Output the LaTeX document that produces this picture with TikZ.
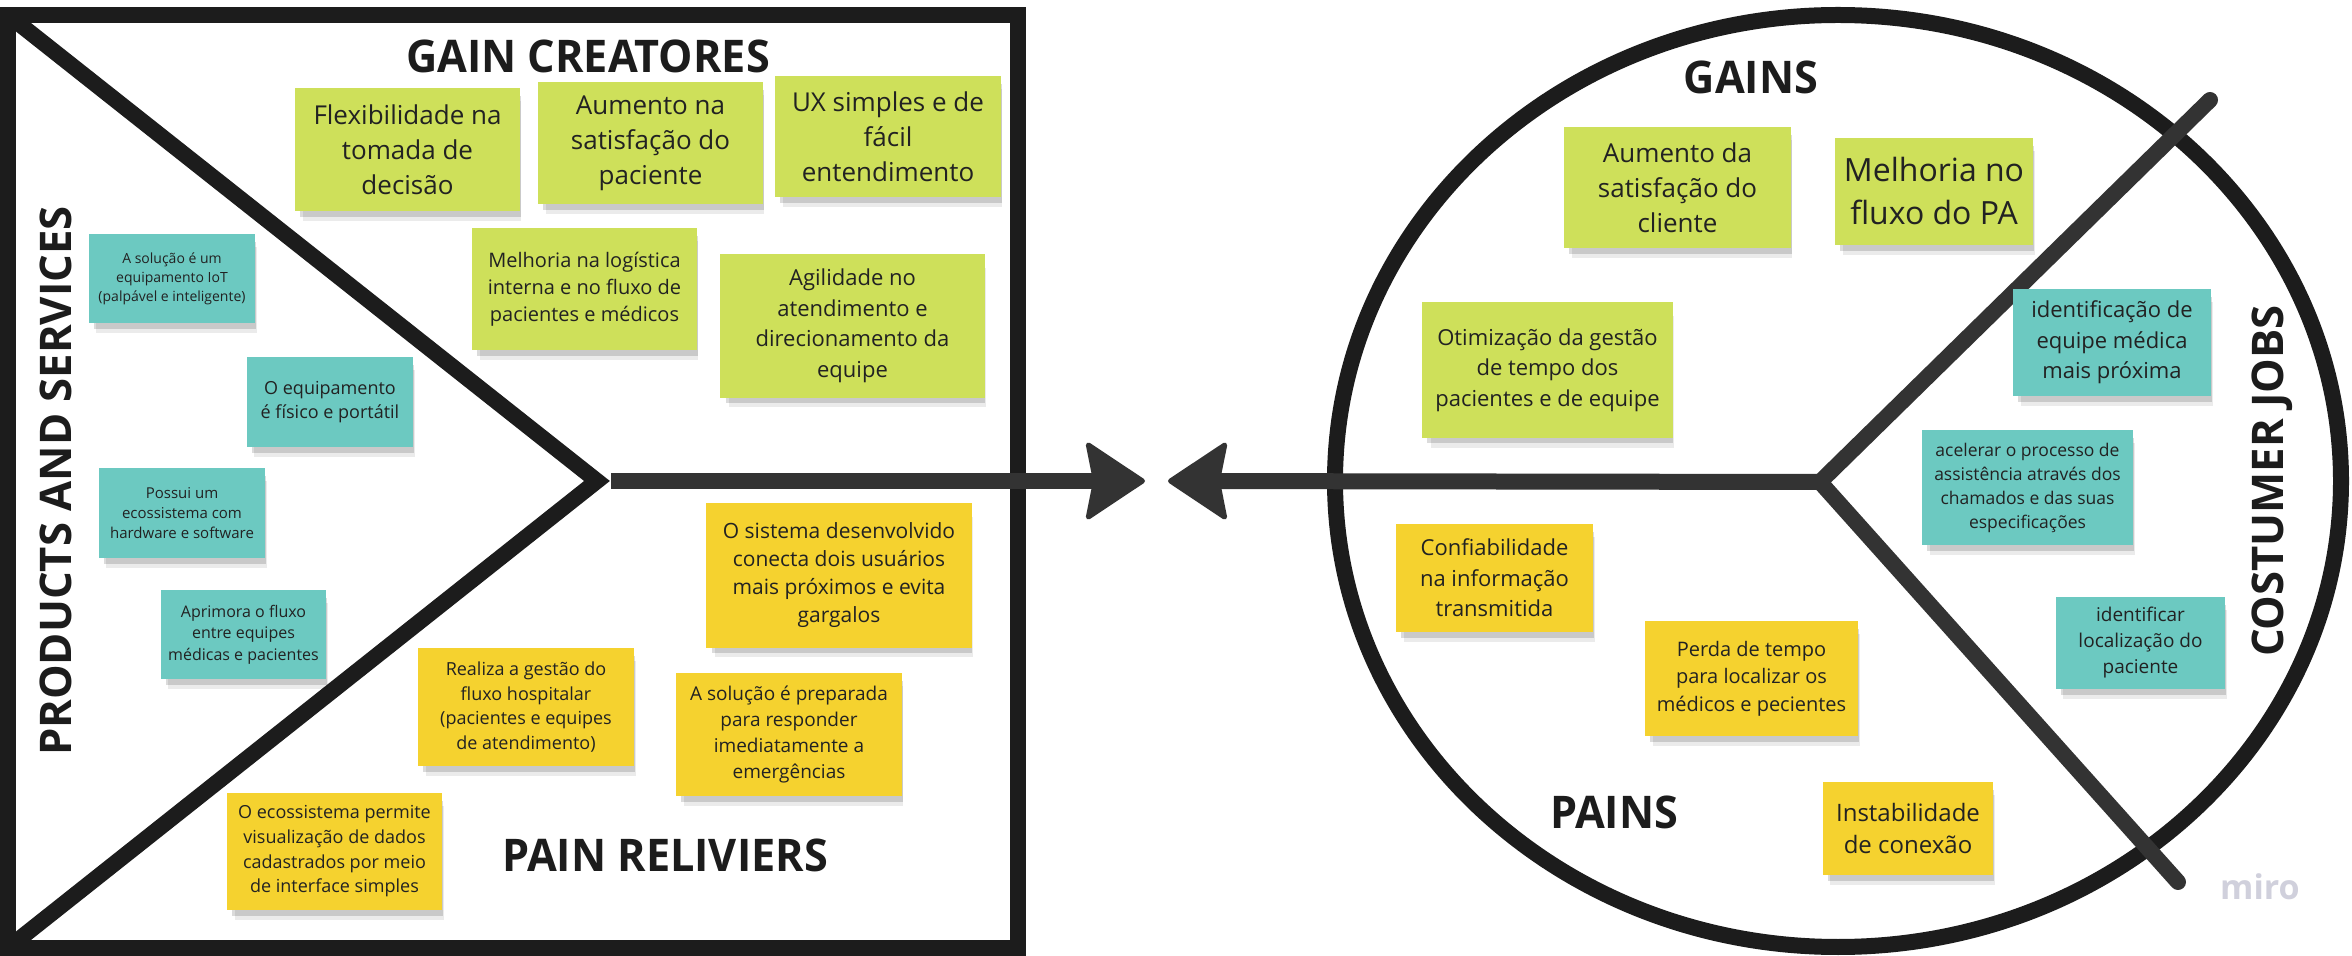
\documentclass[tikz,border=0pt]{standalone}
\usepackage{fontspec}
\setmainfont{Open Sans}
\newfontfamily\notefont{Open Sans}
\newfontfamily\titlefont{Open Sans}
\newfontfamily\condtitlefont{Open Sans}[FakeStretch=0.96]
\usetikzlibrary{arrows.meta,shadows}

\definecolor{stgreen}{RGB}{206,224,90}
\definecolor{stteal}{RGB}{108,201,193}
\definecolor{styellow}{RGB}{245,210,47}
\definecolor{framecol}{RGB}{28,28,28}
\definecolor{linecol}{RGB}{51,51,51}
\definecolor{notetext}{RGB}{34,34,34}
\definecolor{mirocol}{RGB}{208,208,220}

\tikzset{
  frameline/.style={draw=framecol, line width=8pt},
  shaft/.style={draw=linecol, line width=8pt},
  tiphead/.style={-{Stealth[length=31pt, width=41pt, inset=4pt, round, line width=2.5pt]}},
  note/.style={inner sep=0pt, align=center, text=notetext,
    drop shadow={shadow xshift=2.5pt, shadow yshift=-6pt, shadow scale=0.97, opacity=0.08, fill=black},
    drop shadow={shadow xshift=1.5pt, shadow yshift=-3.5pt, shadow scale=0.98, opacity=0.14, fill=black}},
  gnote/.style={note, fill=stgreen},
  tnote/.style={note, fill=stteal},
  ynote/.style={note, fill=styellow},
  title/.style={inner sep=0pt, text=framecol, font=\condtitlefont\bfseries\fontsize{22.5}{27}\selectfont},
  wtitle/.style={inner sep=0pt, text=framecol, font=\titlefont\bfseries\fontsize{21.8}{26}\selectfont, rotate=90},
}
\newcommand\nfs[2]{\notefont\fontsize{#1}{#2}\selectfont}
% \sticky{style}{name}{x1}{y1}{x2}{y2}{font}{text}
\newcommand\sticky[8]{%
  \node[#1, minimum width={(#5-#3)*0.5pt}, minimum height={(#6-#4)*0.5pt}, font=#7]
    (#2) at ({(#3+#5)/2},{(#4+#6)/2}) {#8};}

\begin{document}
\begin{tikzpicture}[x=0.5pt, y=-0.5pt]
\useasboundingbox[fill=white] (0,0) rectangle (2352,956);

% ---------- value proposition canvas ----------
\draw[frameline] (8,15) rectangle (1018,948);
\coordinate (tl) at (8,15);
\coordinate (bl) at (8,948);
\coordinate (apex) at (597,481);
\draw[frameline, line join=miter] (tl) -- (apex) -- (bl);

% ---------- customer profile ----------
\draw[frameline] (1838,481) ellipse [x radius=503, y radius=466];
\coordinate (junc) at (1820,482);
\coordinate (jobsend) at (2210,100);
\coordinate (painend) at (2178,882);
\draw[shaft, line cap=round, line join=miter] (jobsend) -- (junc) -- (painend);

% ---------- arrows ----------
\coordinate (shaftL) at (611,481);
\coordinate (tipL) at (1145,481);
\coordinate (tipR) at (1168,481);
\draw[shaft, tiphead] (shaftL) -- (tipL);
\draw[shaft, tiphead] (junc) -- (tipR);

% ---------- titles ----------
\node[title] (tgc) at (588,56) {GAIN CREATORES};
\node[title] (tpr) at (665,855) {PAIN RELIVIERS};
\node[wtitle] (tps) at (56,481) {PRODUCTS AND SERVICES};
\node[title] (tgn) at (1751,77) {GAINS};
\node[title] (tpn) at (1614,812) {PAINS};
\node[wtitle] (tcj) at (2272,481) {COSTUMER JOBS};
\node[inner sep=0pt, text=mirocol, font=\titlefont\bfseries\fontsize{17}{20}\selectfont] (miro) at (2260,887) {miro};

% ---------- gain creators ----------
\sticky{gnote}{g1}{295}{88}{520}{211}{\nfs{13}{17.5}}{Flexibilidade na\\tomada de\\decisão}
\sticky{gnote}{g2}{538}{82}{763}{204}{\nfs{13}{17.5}}{Aumento na\\satisfação do\\paciente}
\sticky{gnote}{g3}{775}{76}{1001}{197}{\nfs{13}{17.5}}{UX simples e de\\fácil\\entendimento}
\sticky{gnote}{g4}{472}{228}{697}{350}{\nfs{10}{13.5}}{Melhoria na logística\\interna e no fluxo de\\pacientes e médicos}
\sticky{gnote}{g5}{720}{254}{985}{398}{\nfs{11}{15.25}}{Agilidade no\\atendimento e\\direcionamento da\\equipe}

% ---------- products and services ----------
\sticky{tnote}{p1}{89}{234}{255}{323}{\nfs{7}{9.5}}{A solução é um\\equipamento IoT\\(palpável e inteligente)}
\sticky{tnote}{p2}{247}{357}{413}{447}{\nfs{9}{12}}{O equipamento\\é físico e portátil}
\sticky{tnote}{p3}{99}{468}{265}{558}{\nfs{7.5}{10}}{Possui um\\ecossistema com\\hardware e software}
\sticky{tnote}{p4}{161}{590}{326}{679}{\nfs{8}{10.75}}{Aprimora o fluxo\\entre equipes\\médicas e pacientes}

% ---------- pain relievers ----------
\sticky{ynote}{r1}{706}{503}{972}{648}{\nfs{10.5}{14}}{O sistema desenvolvido\\conecta dois usuários\\mais próximos e evita\\gargalos}
\sticky{ynote}{r2}{418}{648}{634}{766}{\nfs{9}{12.25}}{Realiza a gestão do\\fluxo hospitalar\\(pacientes e equipes\\de atendimento)}
\sticky{ynote}{r3}{676}{673}{902}{796}{\nfs{9.5}{13}}{A solução é preparada\\para responder\\imediatamente a\\emergências}
\sticky{ynote}{r4}{227}{793}{442}{910}{\nfs{9}{12.35}}{O ecossistema permite\\visualização de dados\\cadastrados por meio\\de interface simples}

% ---------- gains ----------
\sticky{gnote}{gn1}{1564}{127}{1791}{248}{\nfs{13}{17.5}}{Aumento da\\satisfação do\\cliente}
\sticky{gnote}{gn2}{1835}{138}{2033}{245}{\nfs{16}{21.5}}{Melhoria no\\fluxo do PA}
\sticky{gnote}{gn3}{1422}{302}{1673}{438}{\nfs{11}{15.25}}{Otimização da gestão\\de tempo dos\\pacientes e de equipe}

% ---------- customer jobs ----------
\sticky{tnote}{j1}{2013}{289}{2211}{396}{\nfs{11}{15.25}}{identificação de\\equipe médica\\mais próxima}
\sticky{tnote}{j2}{1922}{430}{2133}{545}{\nfs{8.75}{12}}{acelerar o processo de\\assistência através dos\\chamados e das suas\\especificações}
\sticky{tnote}{j3}{2056}{597}{2225}{689}{\nfs{9.5}{13}}{identificar\\localização do\\paciente}

% ---------- pains ----------
\sticky{ynote}{pn1}{1396}{524}{1593}{632}{\nfs{11}{15.25}}{Confiabilidade\\na informação\\transmitida}
\sticky{ynote}{pn2}{1645}{621}{1858}{736}{\nfs{10}{13.8}}{Perda de tempo\\para localizar os\\médicos e pecientes}
\sticky{ynote}{pn3}{1823}{782}{1993}{875}{\nfs{12}{16.5}}{Instabilidade\\de conexão}
\end{tikzpicture}
\end{document}
